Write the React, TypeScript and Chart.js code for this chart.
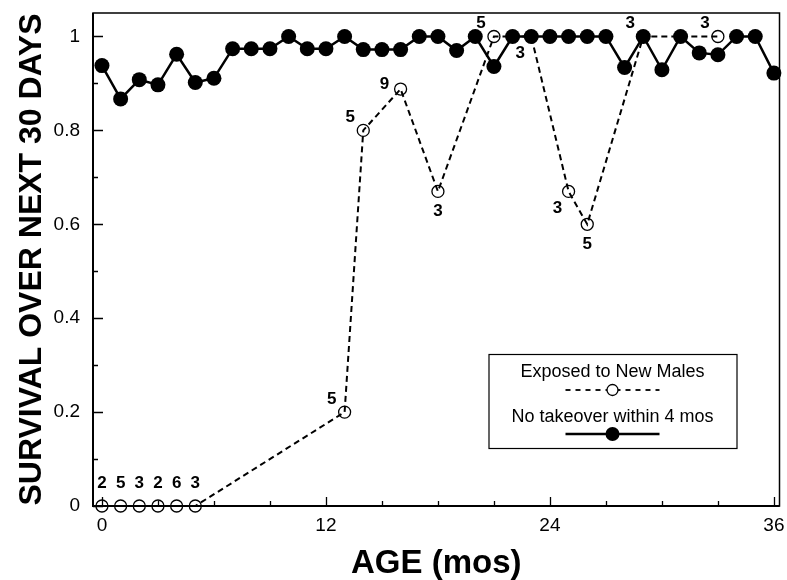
import React, { useEffect, useRef } from 'react';
import { Chart, registerables } from 'chart.js';

Chart.register(...registerables);

const FONT = '"Liberation Sans", Arial, Helvetica, sans-serif';

// ---- data ----
const noTakeoverMonths = [
  0, 1, 2, 3, 4, 5, 6, 7, 8, 9, 10, 11, 12, 13, 14, 15, 16, 17, 18,
  19, 20, 21, 22, 23, 24, 25, 26, 27, 28, 29, 30, 31, 32, 33, 34, 35, 36,
];
const noTakeoverSurvival = [
  0.938, 0.867, 0.908, 0.897, 0.962, 0.902, 0.911, 0.974, 0.974, 0.974,
  1.0, 0.974, 0.974, 1.0, 0.972, 0.972, 0.972, 1.0, 1.0, 0.97, 1.0, 0.936,
  1.0, 1.0, 1.0, 1.0, 1.0, 1.0, 0.934, 1.0, 0.929, 1.0, 0.965, 0.961, 1.0,
  1.0, 0.922,
];
const exposedMonths = [0, 1, 2, 3, 4, 5, 13, 14, 16, 18, 21, 23, 25, 26, 29, 33];
const exposedSurvival = [0, 0, 0, 0, 0, 0, 0.2, 0.8, 0.888, 0.67, 1.0, 1.0, 0.67, 0.6, 1.0, 1.0];
const exposedSampleSizes = [2, 5, 3, 2, 6, 3, 5, 5, 9, 3, 5, 3, 3, 5, 3, 3];
const exposedLabelPlacement = [
  'above', 'above', 'above', 'above', 'above', 'above',
  'upLeft', 'upLeft', 'left', 'below', 'upLeft', 'downLeft',
  'downLeft', 'below', 'upLeft', 'upLeft',
];

const xTickValues = [0, 12, 24, 36];
const xMinorTickValues = [3, 6, 9, 15, 18, 21, 27, 30, 33];
const yTickValues = [0, 0.2, 0.4, 0.6, 0.8, 1];
const yMinorTickValues = [0.1, 0.3, 0.5, 0.7, 0.9];

const legendLabels = ['Exposed to New Males', 'No takeover within 4 mos'];
const xAxisTitle = 'AGE (mos)';
const yAxisTitle = 'SURVIVAL OVER NEXT 30 DAYS';

const placementOffsets: Record<string, [number, number]> = {
  above: [0, -23],
  upLeft: [-13, -13],
  left: [-16, -5],
  below: [0, 20],
  downLeft: [-11, 17],
};

const decorPlugin = {
  id: 'decor',
  afterDatasetsDraw(chart: any) {
    const { ctx, chartArea: a, scales } = chart;
    const x = scales.x;
    const y = scales.y;
    ctx.save();
    ctx.strokeStyle = '#000';
    ctx.setLineDash([]);

    // frame
    ctx.lineWidth = 1.5;
    ctx.strokeRect(a.left, a.top, a.right - a.left, a.bottom - a.top);
    ctx.lineWidth = 2;
    ctx.beginPath();
    ctx.moveTo(a.left, a.top);
    ctx.lineTo(a.left, a.bottom);
    ctx.lineTo(a.right, a.bottom);
    ctx.stroke();

    // inward tick marks
    ctx.lineWidth = 1.3;
    ctx.beginPath();
    xTickValues.forEach((v) => {
      const px = Math.round(x.getPixelForValue(v)) + 0.5;
      ctx.moveTo(px, a.bottom);
      ctx.lineTo(px, a.bottom - 9);
    });
    xMinorTickValues.forEach((v) => {
      const px = Math.round(x.getPixelForValue(v)) + 0.5;
      ctx.moveTo(px, a.bottom);
      ctx.lineTo(px, a.bottom - 5);
    });
    yTickValues.forEach((v) => {
      const py = Math.round(y.getPixelForValue(v)) + 0.5;
      ctx.moveTo(a.left, py);
      ctx.lineTo(a.left + 10, py);
    });
    yMinorTickValues.forEach((v) => {
      const py = Math.round(y.getPixelForValue(v)) + 0.5;
      ctx.moveTo(a.left, py);
      ctx.lineTo(a.left + 5, py);
    });
    ctx.stroke();

    // sample-size labels
    const meta = chart.getDatasetMeta(0);
    ctx.fillStyle = '#000';
    ctx.font = `bold 17px ${FONT}`;
    ctx.textAlign = 'center';
    ctx.textBaseline = 'middle';
    meta.data.forEach((pt: any, i: number) => {
      const off = placementOffsets[exposedLabelPlacement[i]] || [0, -20];
      ctx.fillText(String(exposedSampleSizes[i]), pt.x + off[0], pt.y + off[1]);
    });

    // legend box
    const bx = a.right - 291;
    const by = a.bottom - 152;
    const bw = 248;
    const bh = 94;
    const cx = bx + bw / 2;
    ctx.lineWidth = 1.2;
    ctx.strokeRect(bx + 0.5, by + 0.5, bw, bh);
    ctx.font = `18px ${FONT}`;
    ctx.fillText(legendLabels[0], cx, by + 18);
    ctx.fillText(legendLabels[1], cx, by + 63);

    ctx.lineWidth = 1.8;
    ctx.setLineDash([5, 5]);
    ctx.beginPath();
    ctx.moveTo(cx - 47, by + 36);
    ctx.lineTo(cx + 47, by + 36);
    ctx.stroke();
    ctx.setLineDash([]);
    ctx.beginPath();
    ctx.arc(cx, by + 36, 5.5, 0, Math.PI * 2);
    ctx.fillStyle = '#fff';
    ctx.fill();
    ctx.lineWidth = 1.3;
    ctx.stroke();

    ctx.lineWidth = 2.5;
    ctx.beginPath();
    ctx.moveTo(cx - 47, by + 80);
    ctx.lineTo(cx + 47, by + 80);
    ctx.stroke();
    ctx.beginPath();
    ctx.arc(cx, by + 80, 7, 0, Math.PI * 2);
    ctx.fillStyle = '#000';
    ctx.fill();

    ctx.restore();
  },
};

export default function App() {
  const canvasRef = useRef<HTMLCanvasElement | null>(null);

  useEffect(() => {
    document.body.style.margin = '0';
    document.body.style.background = '#fff';
    const canvas = canvasRef.current;
    if (!canvas) return;

    const chart = new Chart(canvas, {
      type: 'line',
      data: {
        datasets: [
          {
            label: legendLabels[0],
            data: exposedMonths.map((m, i) => ({ x: m, y: exposedSurvival[i] })),
            borderColor: '#000',
            borderWidth: 2,
            borderDash: [6, 4],
            pointRadius: 6,
            pointBorderWidth: 1.3,
            pointBackgroundColor: 'rgba(0,0,0,0)',
            pointBorderColor: '#000',
            fill: false,
            tension: 0,
            clip: false as any,
            order: 2,
          },
          {
            label: legendLabels[1],
            data: noTakeoverMonths.map((m, i) => ({ x: m, y: noTakeoverSurvival[i] })),
            borderColor: '#000',
            borderWidth: 2.5,
            pointRadius: 7.5,
            pointBorderWidth: 0,
            pointBackgroundColor: '#000',
            pointBorderColor: '#000',
            fill: false,
            tension: 0,
            clip: false as any,
            order: 1,
          },
        ],
      },
      options: {
        responsive: false,
        animation: false,
        layout: { padding: { top: 13, right: 6, left: 0, bottom: 0 } },
        plugins: {
          legend: { display: false },
          tooltip: { enabled: false },
        },
        scales: {
          x: {
            type: 'linear',
            min: -0.48,
            max: 36.3,
            grid: { display: false, drawTicks: false },
            border: { display: false },
            afterBuildTicks: (s: any) => {
              s.ticks = xTickValues.map((v) => ({ value: v }));
            },
            afterFit: (s: any) => {
              s.height = 74;
              s.paddingLeft = 0;
              s.paddingRight = 0;
              s.paddingTop = 0;
              s.paddingBottom = 0;
            },
            ticks: {
              color: '#000',
              padding: 8,
              maxRotation: 0,
              autoSkip: false,
              font: { family: FONT, size: 19 },
              callback: (v: any) => String(v),
            },
            title: {
              display: true,
              text: xAxisTitle,
              color: '#000',
              font: { family: FONT, size: 33, weight: 'bold', lineHeight: 1 },
              padding: { top: 0, bottom: 0 },
            },
          },
          y: {
            type: 'linear',
            min: 0,
            max: 1.05,
            grid: { display: false, drawTicks: false },
            border: { display: false },
            afterBuildTicks: (s: any) => {
              s.ticks = yTickValues.map((v) => ({ value: v }));
            },
            afterFit: (s: any) => {
              s.width = 93;
              s.paddingLeft = 0;
              s.paddingRight = 0;
              s.paddingTop = 0;
              s.paddingBottom = 0;
            },
            ticks: {
              color: '#000',
              padding: 13,
              autoSkip: false,
              font: { family: FONT, size: 19 },
              callback: (v: any) => String(v),
            },
            title: {
              display: true,
              text: yAxisTitle,
              color: '#000',
              font: { family: FONT, size: 32, weight: 'bold', lineHeight: 1 },
              padding: { top: 16, bottom: 0 },
            },
          },
        },
      },
      plugins: [decorPlugin],
    });

    return () => {
      chart.destroy();
    };
  }, []);

  return (
    <div style={{ width: 787, height: 580, background: '#fff' }}>
      <canvas ref={canvasRef} width={787} height={580} style={{ display: 'block' }} />
    </div>
  );
}
